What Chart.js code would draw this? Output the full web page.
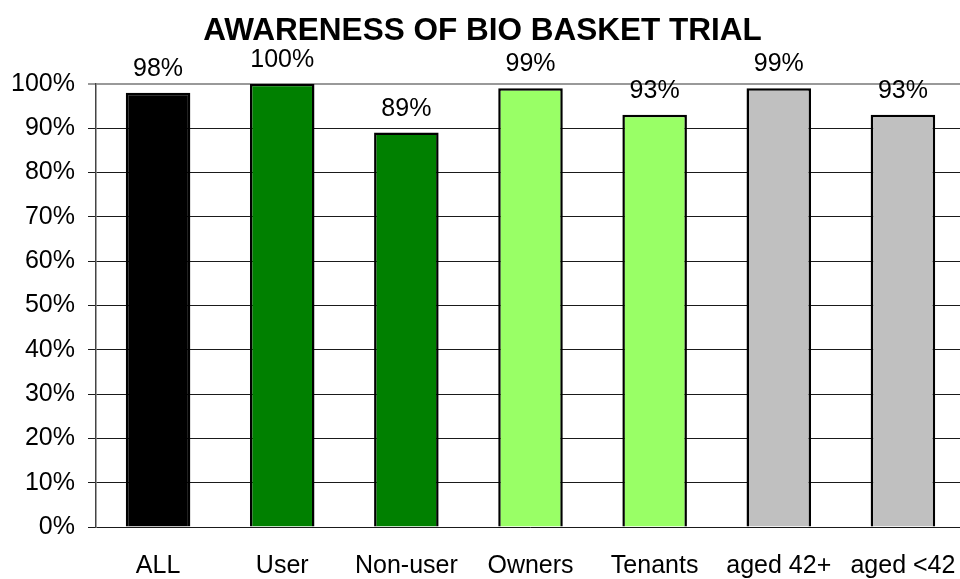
<!DOCTYPE html>
<html>
<head>
<meta charset="utf-8">
<script src="https://cdn.jsdelivr.net/npm/chart.js@4.4.0/dist/chart.umd.min.js"></script>
<style>
  html, body { margin: 0; padding: 0; background: #fff; overflow: hidden; }
  /* o gráfico original corta a última coluna na borda direita */
  #wrap { width: 965px; height: 579px; }
</style>
</head>
<body>
<div id="wrap"><canvas id="awarenessChart"></canvas></div>
<script>
// categorias e valores
const categories = ['ALL', 'User', 'Non-user', 'Owners', 'Tenants', 'aged 42+', 'aged <42'];
const awareness = [98, 100, 89, 99, 93, 99, 93];
const barColors = ['#000000', '#008000', '#008000', '#99ff66', '#99ff66', '#c0c0c0', '#c0c0c0'];
const yTicks = [0, 10, 20, 30, 40, 50, 60, 70, 80, 90, 100];

const FONT = 'Arial, "Liberation Sans", sans-serif';

// rótulos em cima das barras
const valueLabels = {
    id: 'valueLabels',
    afterDatasetsDraw(chart) {
        const ctx = chart.ctx;
        const meta = chart.getDatasetMeta(0);
        ctx.save();
        ctx.font = '25px ' + FONT;
        ctx.fillStyle = '#000';
        ctx.textAlign = 'center';
        ctx.textBaseline = 'alphabetic';
        meta.data.forEach((bar, i) => {
            ctx.fillText(awareness[i] + '%', bar.x, bar.y - 17);
        });
        ctx.restore();
    }
};

const canvas = document.getElementById('awarenessChart');
const ctx = canvas.getContext('2d');

new Chart(ctx, {
    type: 'bar',
    data: {
        labels: categories,
        datasets: [{
            data: awareness,
            backgroundColor: barColors,
            borderColor: '#000',
            borderWidth: 2.5,
            borderSkipped: 'bottom',
            categoryPercentage: 1,
            barPercentage: 0.52
        }]
    },
    options: {
        responsive: true,
        maintainAspectRatio: false,
        animation: false,
        layout: { padding: 0 },
        plugins: {
            legend: { display: false },
            tooltip: { enabled: false },
            title: {
                display: true,
                text: 'AWARENESS OF BIO BASKET TRIAL',
                color: '#000',
                font: { family: FONT, size: 31.5, weight: 'bold' },
                padding: { top: 12, bottom: 34 }
            }
        },
        scales: {
            y: {
                min: 0,
                max: 100,
                afterBuildTicks: (axis) => { axis.ticks = yTicks.map(v => ({ value: v })); },
                afterFit: (axis) => { axis.width = 96; },
                border: { display: true, color: '#444', width: 1.5 },
                grid: {
                    color: (c) => c.tick && c.tick.value === 100 ? '#999' : '#1a1a1a',
                    lineWidth: (c) => c.tick && c.tick.value === 100 ? 2 : 1,
                    tickLength: 8,
                    drawTicks: true
                },
                ticks: {
                    color: '#000',
                    padding: 13,
                    font: { family: FONT, size: 25 },
                    callback: (v) => v + '%'
                }
            },
            x: {
                offset: true,
                afterFit: (axis) => {
                    axis.height = 52;
                    axis.paddingLeft = 0;
                    axis.paddingRight = 0;
                },
                grid: { display: false, drawTicks: false },
                border: { display: false },
                ticks: {
                    color: '#000',
                    padding: 24,
                    maxRotation: 0,
                    autoSkip: false,
                    font: { family: FONT, size: 25 }
                }
            }
        }
    },
    plugins: [valueLabels]
});
</script>
</body>
</html>
